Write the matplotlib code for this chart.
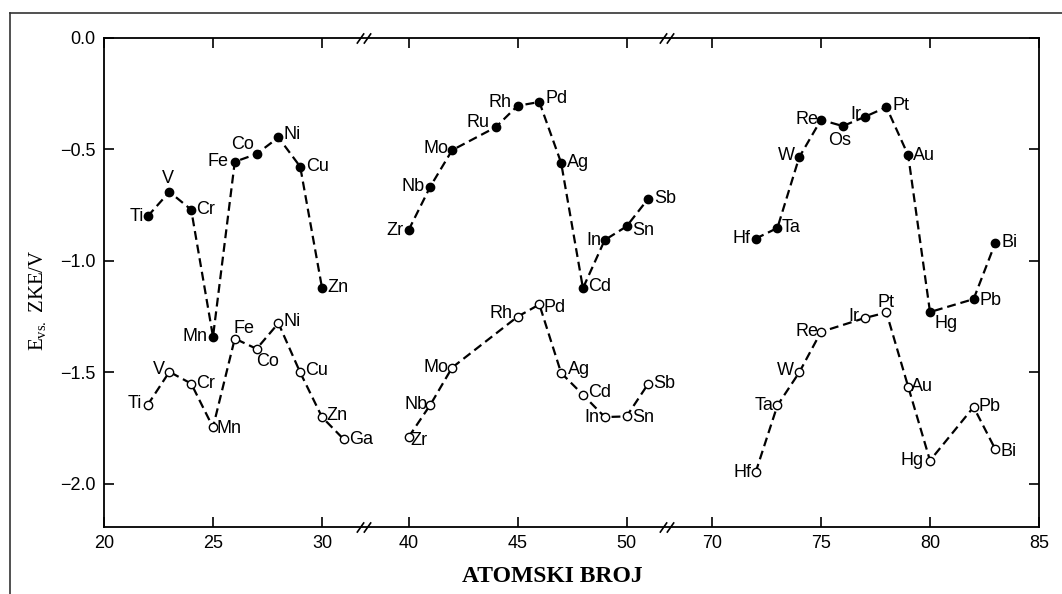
import numpy as np
import matplotlib
matplotlib.use("Agg")
import matplotlib.pyplot as plt
from matplotlib.path import Path
from matplotlib.transforms import ScaledTranslation
from matplotlib.lines import Line2D

# --- podaci (ocitano sa slike) ---
# puni kruzici: gornja serija
filled_sym = ['Ti', 'V', 'Cr', 'Mn', 'Fe', 'Co', 'Ni', 'Cu', 'Zn',
              'Zr', 'Nb', 'Mo', 'Ru', 'Rh', 'Pd', 'Ag', 'Cd', 'In', 'Sn', 'Sb',
              'Hf', 'Ta', 'W', 'Re', 'Os', 'Ir', 'Pt', 'Au', 'Hg', 'Pb', 'Bi']
filled_z = [22, 23, 24, 25, 26, 27, 28, 29, 30,
            40, 41, 42, 44, 45, 46, 47, 48, 49, 50, 51,
            72, 73, 74, 75, 76, 77, 78, 79, 80, 82, 83]
filled_E = [-0.80, -0.69, -0.77, -1.34, -0.555, -0.52, -0.446, -0.577, -1.12,
            -0.862, -0.666, -0.503, -0.40, -0.304, -0.287, -0.56, -1.122, -0.906, -0.845, -0.72,
            -0.90, -0.852, -0.535, -0.367, -0.395, -0.354, -0.31, -0.526, -1.229, -1.171, -0.918]

# prazni kruzici: donja serija
open_sym = ['Ti', 'V', 'Cr', 'Mn', 'Fe', 'Co', 'Ni', 'Cu', 'Zn', 'Ga',
            'Zr', 'Nb', 'Mo', 'Rh', 'Pd', 'Ag', 'Cd', 'In', 'Sn', 'Sb',
            'Hf', 'Ta', 'W', 'Re', 'Ir', 'Pt', 'Au', 'Hg', 'Pb', 'Bi']
open_z = [22, 23, 24, 25, 26, 27, 28, 29, 30, 31,
          40, 41, 42, 45, 46, 47, 48, 49, 50, 51,
          72, 73, 74, 75, 77, 78, 79, 80, 82, 83]
open_E = [-1.646, -1.497, -1.55, -1.746, -1.348, -1.394, -1.279, -1.50, -1.70, -1.80,
          -1.79, -1.645, -1.478, -1.25, -1.195, -1.502, -1.60, -1.70, -1.697, -1.55,
          -1.948, -1.648, -1.50, -1.318, -1.256, -1.231, -1.564, -1.895, -1.655, -1.845]

x_ticks = [20, 25, 30, 40, 45, 50, 70, 75, 80, 85]
y_ticks = [0.0, -0.5, -1.0, -1.5, -2.0]

# polozaj oznaka (dx, dy u pikselima, poravnanje)
filled_lab = {
    'Ti': (-4, 0, 'right'), 'V': (-1, 13, 'center'), 'Cr': (5, 0, 'left'),
    'Mn': (-5, 0, 'right'), 'Fe': (-6, 0, 'right'), 'Co': (-14, 9, 'center'),
    'Ni': (5, 3, 'left'), 'Cu': (6, 0, 'left'), 'Zn': (5, 0, 'left'),
    'Zr': (-5, 0, 'right'), 'Nb': (-6, 0, 'right'), 'Mo': (-4, 2, 'right'),
    'Ru': (-6, 5, 'right'), 'Rh': (-6, 3, 'right'), 'Pd': (6, 3, 'left'),
    'Ag': (6, 0, 'left'), 'Cd': (5, 2, 'left'), 'In': (-3, 0, 'right'),
    'Sn': (6, -4, 'left'), 'Sb': (6, 0, 'left'),
    'Hf': (-5, 0, 'right'), 'Ta': (4, 0, 'left'), 'W': (-4, 2, 'right'),
    'Re': (-3, 0, 'right'), 'Os': (-3, -14, 'center'), 'Ir': (-3, 2, 'right'),
    'Pt': (6, 2, 'left'), 'Au': (5, 0, 'left'), 'Hg': (4, -11, 'left'),
    'Pb': (6, -1, 'left'), 'Bi': (6, 0, 'left'),
}
open_lab = {
    'Ti': (-6, 2, 'right'), 'V': (-4, 2, 'right'), 'Cr': (5, 0, 'left'),
    'Mn': (4, -1, 'left'), 'Fe': (-1, 10, 'left'), 'Co': (0, -13, 'left'),
    'Ni': (5, 2, 'left'), 'Cu': (5, 2, 'left'), 'Zn': (4, 2, 'left'), 'Ga': (5, 0, 'left'),
    'Zr': (2, -3, 'left'), 'Nb': (-3, 0, 'right'), 'Mo': (-4, 0, 'right'),
    'Rh': (-5, 3, 'right'), 'Pd': (4, -3, 'left'), 'Ag': (7, 3, 'left'),
    'Cd': (5, 2, 'left'), 'In': (-5, 0, 'right'), 'Sn': (6, -1, 'left'), 'Sb': (5, 0, 'left'),
    'Hf': (-4, 0, 'right'), 'Ta': (-4, 0, 'right'), 'W': (-5, 2, 'right'),
    'Re': (-3, 0, 'right'), 'Ir': (-5, 2, 'right'), 'Pt': (0, 10, 'center'),
    'Au': (3, 0, 'left'), 'Hg': (-6, 0, 'right'), 'Pb': (5, 1, 'left'), 'Bi': (5, -2, 'left'),
}

# prekinuta x osa: 20-31.9 | 37.95-51.8 | 67.9-85
brk_x = [0, 20, 31.9, 37.95, 51.8, 67.9, 85, 200]
brk_u = [-20, 0, 11.9, 11.92, 25.77, 25.79, 42.89, 157.89]


def fwd(z):
    return np.interp(z, brk_x, brk_u)


def inv(u):
    return np.interp(u, brk_u, brk_x)


plt.rcParams['font.family'] = ['Liberation Sans', 'DejaVu Sans']
plt.rcParams['mathtext.fontset'] = 'custom'
plt.rcParams['mathtext.rm'] = 'Liberation Serif'

fig = plt.figure(figsize=(10.62, 5.94), dpi=100)
ax = fig.add_axes([104 / 1062, 1 - 527 / 594, 935 / 1062, 489 / 594])
ax.set_xscale('function', functions=(fwd, inv))

dash = (0, (4.0, 2.2))


def groups(z):
    z = np.asarray(z)
    return [z < 35, (z > 35) & (z < 60), z > 60]


for zs, es, fc in [(filled_z, filled_E, 'k'), (open_z, open_E, 'white')]:
    zs = np.asarray(zs)
    es = np.asarray(es)
    for m in groups(zs):
        ax.plot(zs[m], es[m], color='k', lw=1.6, ls=dash, marker='o', ms=6,
                mfc=fc, mec='k', mew=1.0)

for syms, zs, es, lab in [(filled_sym, filled_z, filled_E, filled_lab),
                          (open_sym, open_z, open_E, open_lab)]:
    for s, z, e in zip(syms, zs, es):
        dx, dy, ha = lab[s]
        ax.annotate(s, (z, e), xytext=(dx, dy), textcoords='offset pixels',
                    ha=ha, va='center', fontsize=13)

ax.set_xlim(20, 85)
ax.set_ylim(-2.193, 0)
ax.set_xticks(x_ticks)
ax.set_xticklabels([str(t) for t in x_ticks])
ax.set_yticks(y_ticks)
ax.set_yticklabels(['0.0', '\u22120.5', '\u22121.0', '\u22121.5', '\u22122.0'])
ax.xaxis.set_minor_locator(matplotlib.ticker.NullLocator())
ax.tick_params(direction='in', top=True, right=True, length=7, width=1.2,
               labelsize=13, pad=6)
for sp in ax.spines.values():
    sp.set_linewidth(1.3)

# oznake prekida //
slash = Path([(-0.35, -0.5), (0.35, 0.5)], [Path.MOVETO, Path.LINETO])
for zb in [35, 60]:
    for yb in [0, 1]:
        for off in [-3.5, 3.5]:
            tr = ax.get_xaxis_transform() + ScaledTranslation(off / 100, 0, fig.dpi_scale_trans)
            ax.plot([zb], [yb], transform=tr, marker=slash, ms=7.5, mew=1.2,
                    color='k', ls='none', clip_on=False)

fig.text(552 / 1062, 1 - 576 / 594, 'ATOMSKI BROJ', ha='center', va='center',
         fontsize=17, fontweight='bold', family='Liberation Serif')
fig.text(38 / 1062, 1 - 300 / 594, r'E$_{\mathrm{vs.}}$ ZKE/V', ha='center', va='center',
         rotation=90, fontsize=15, family='Liberation Serif')

# okvir stranice
fig.add_artist(Line2D([10 / 1062, 10 / 1062], [0, 1 - 13 / 594], transform=fig.transFigure,
                      color='#333333', lw=1.2))
fig.add_artist(Line2D([10 / 1062, 1], [1 - 13 / 594, 1 - 13 / 594], transform=fig.transFigure,
                      color='#333333', lw=1.2))

fig.savefig('out.png', dpi=100)
